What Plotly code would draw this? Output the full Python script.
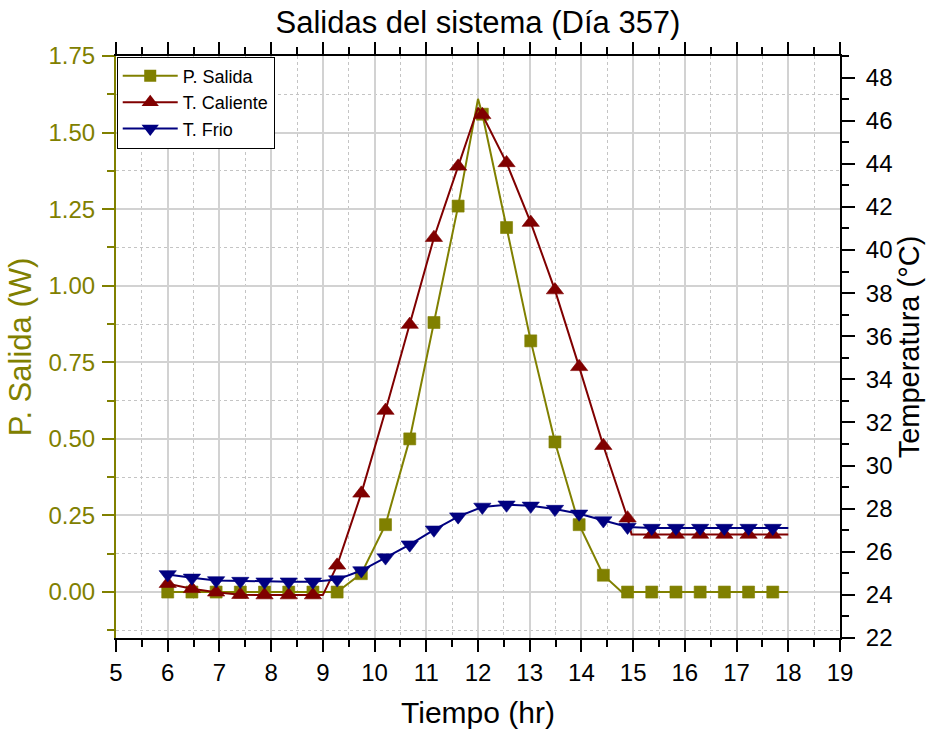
import plotly.graph_objects as go

# ---- data ----
times = [6.0, 6.468, 6.936, 7.404, 7.872, 8.34, 8.808, 9.276, 9.744, 10.212,
         10.68, 11.148, 11.616, 12.084, 12.552, 13.02, 13.488, 13.956, 14.424,
         14.892, 15.36, 15.828, 16.296, 16.764, 17.232, 17.7]

p_salida = [0.0, 0.0, 0.0, 0.0, 0.0, 0.0, 0.0, 0.0, 0.06, 0.22,
            0.50, 0.88, 1.26, 1.56, 1.19, 0.82, 0.49, 0.22, 0.055,
            0.0, 0.0, 0.0, 0.0, 0.0, 0.0, 0.0]

t_caliente = [24.52, 24.28, 24.12, 24.01, 23.99, 23.99, 23.99, 25.37, 28.71, 32.55,
              36.54, 40.57, 43.88, 46.27, 44.04, 41.27, 38.14, 34.58, 30.92,
              27.56, 26.8, 26.8, 26.8, 26.8, 26.8, 26.8]

t_frio = [24.95, 24.79, 24.67, 24.64, 24.61, 24.61, 24.61, 24.71, 25.13, 25.73,
          26.33, 27.02, 27.63, 28.08, 28.18, 28.13, 27.98, 27.76, 27.45,
          27.15, 27.1, 27.1, 27.1, 27.1, 27.1, 27.1]

# extra vertices of the continuous curves (between / beyond the markers)
p_extra_t = [12.0, 14.78, 18.0]
p_extra_v = [1.61, 0.0, 0.0]
c_extra_t = [9.0, 12.0, 14.97, 18.0]
c_extra_v = [23.99, 46.6, 26.8, 26.8]
f_extra_t = [18.0]
f_extra_v = [27.1]

x_ticks = list(range(5, 20))
names = ["P. Salida", "T. Caliente", "T. Frio"]
colors = ["#808000", "#800000", "#000080"]
symbols = ["square", "triangle-up", "triangle-down"]

FONT = "Liberation Sans, Arial, sans-serif"


def merged(t1, v1, t2, v2):
    pts = sorted(zip(list(t1) + list(t2), list(v1) + list(v2)))
    return [p[0] for p in pts], [p[1] for p in pts]


series = [
    (p_salida, p_extra_t, p_extra_v, "y"),
    (t_caliente, c_extra_t, c_extra_v, "y2"),
    (t_frio, f_extra_t, f_extra_v, "y2"),
]

fig = go.Figure()
msizes = [12, 15, 15]
for i, (vals, et, ev, ax) in enumerate(series):
    lx, ly = merged(times, vals, et, ev)
    fig.add_trace(go.Scatter(x=lx, y=ly, mode="lines", yaxis=ax,
                             line=dict(color=colors[i], width=2),
                             showlegend=False, hoverinfo="skip"))
    fig.add_trace(go.Scatter(x=times, y=vals, mode="markers", yaxis=ax,
                             marker=dict(symbol=symbols[i], size=msizes[i], color=colors[i],
                                         line=dict(width=0.6, color=colors[i])),
                             showlegend=False))
# legend entries
for i in range(3):
    fig.add_trace(go.Scatter(x=[None], y=[None], mode="lines+markers", name=names[i],
                             yaxis="y" if i == 0 else "y2",
                             line=dict(color=colors[i], width=2),
                             marker=dict(symbol=symbols[i], size=msizes[i], color=colors[i])))

grid_major = "#d2d2d2"
grid_minor = "#c4c4c4"

fig.update_layout(
    width=930, height=736,
    margin=dict(l=116, r=88, t=56, b=94),
    paper_bgcolor="white", plot_bgcolor="white",
    font=dict(family=FONT, color="black"),
    title=dict(text="Salidas del sistema (Día 357)", x=0.5, xref="paper",
               y=1 - 22 / 736, yref="container", yanchor="middle", xanchor="center",
               font=dict(size=31, family=FONT, color="black")),
    legend=dict(x=0.001, y=0.999, xanchor="left", yanchor="top",
                bordercolor="black", borderwidth=1, bgcolor="white",
                font=dict(size=18, family=FONT, color="black"),
                tracegroupgap=0, itemwidth=55),
    xaxis=dict(range=[5, 19], tickvals=x_ticks, ticktext=[str(v) for v in x_ticks],
               ticks="outside", ticklen=12, tickwidth=2, tickcolor="black",
               showline=True, linecolor="black", linewidth=2, mirror="ticks",
               showgrid=True, gridcolor=grid_major, gridwidth=1.5, zeroline=False,
               tickfont=dict(size=24, family=FONT, color="black"),
               title=dict(text="Tiempo (hr)", font=dict(size=30, family=FONT, color="black"),
                          standoff=17),
               minor=dict(dtick=0.5, tick0=5, ticks="outside", ticklen=7, tickwidth=2,
                          tickcolor="black", showgrid=True, gridcolor=grid_minor,
                          griddash="dot", gridwidth=1)),
    yaxis=dict(range=[-0.15, 1.75], dtick=0.25, tick0=0, tickformat=".2f",
               ticks="outside", ticklen=12, tickwidth=2, tickcolor="#808000",
               showline=True, linecolor="#808000", linewidth=2,
               showgrid=True, gridcolor=grid_major, gridwidth=1.5, zeroline=False,
               tickfont=dict(size=24, family=FONT, color="#808000"),
               ticklabelstandoff=2,
               title=dict(text="P. Salida (W)", font=dict(size=31, family=FONT, color="#808000"),
                          standoff=8),
               minor=dict(dtick=0.125, tick0=0, ticks="outside", ticklen=7, tickwidth=2,
                          tickcolor="#808000", showgrid=True, gridcolor=grid_minor,
                          griddash="dot", gridwidth=1)),
    yaxis2=dict(range=[22, 49], dtick=2, tick0=22, overlaying="y", side="right", anchor="x",
                ticks="outside", ticklen=13, tickwidth=2, tickcolor="black",
                showline=True, linecolor="black", linewidth=2,
                showgrid=False, zeroline=False,
                tickfont=dict(size=24, family=FONT, color="black"),
                ticklabelstandoff=6,
                title=dict(text="Temperatura (°C)", font=dict(size=29, family=FONT, color="black"),
                           standoff=5),
                minor=dict(dtick=1, tick0=22, ticks="outside", ticklen=7, tickwidth=2,
                           tickcolor="black", showgrid=False)),
)

fig.write_html("out.html", config={"displayModeBar": False},
               post_script="document.body.style.margin='0';")
